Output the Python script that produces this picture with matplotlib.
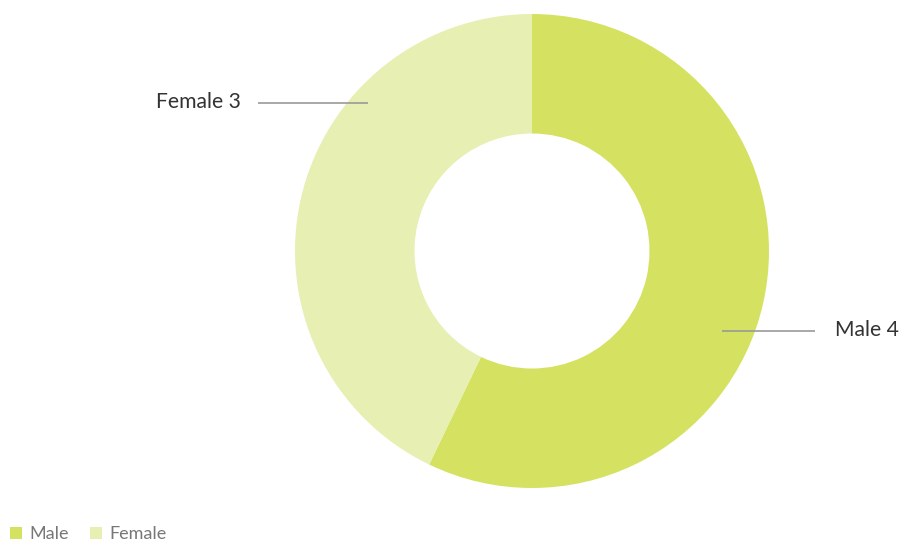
import matplotlib
matplotlib.use("Agg")
import matplotlib.pyplot as plt
from matplotlib.patches import Rectangle

categories = ["Male", "Female"]
values = [4, 3]
colors = ["#d5e261", "#e7efb3"]

plt.rcParams['font.family'] = ['Lato', 'DejaVu Sans']

W, H = 901, 545
fig = plt.figure(figsize=(W / 100, H / 100), dpi=100)
ax = fig.add_axes([0, 0, 1, 1])

cx, cy = 532, H - 251
R, r_in = 237, 117.5
wedges, _ = ax.pie(values, colors=colors, startangle=90, counterclock=False,
                   center=(cx, cy), radius=R, frame=True,
                   wedgeprops=dict(width=R - r_in, linewidth=0))
ax.set_xlim(0, W)
ax.set_ylim(0, H)
ax.set_aspect('equal')
ax.axis('off')

# labels with leader lines
label_specs = [
    (f"{categories[0]} {values[0]}", 722, 815, H - 331, 835, 'left'),
    (f"{categories[1]} {values[1]}", 258, 368, H - 103, 241, 'right'),
]
for txt, x0, x1, y, tx, ha in label_specs:
    ax.plot([x0, x1], [y, y], color="#999999", lw=1.2, solid_capstyle='butt')
    ax.text(tx, y + 1, txt, ha=ha, va='center', fontsize=15.2, color="#333333")

# legend
lx = 10
for name, col in zip(categories, colors):
    ax.add_patch(Rectangle((lx, H - 539), 12, 12, color=col, lw=0))
    ax.text(lx + 19, H - 534, name, ha='left', va='center', fontsize=13, color="#777777")
    lx += 80

fig.savefig("out.png", dpi=100)
